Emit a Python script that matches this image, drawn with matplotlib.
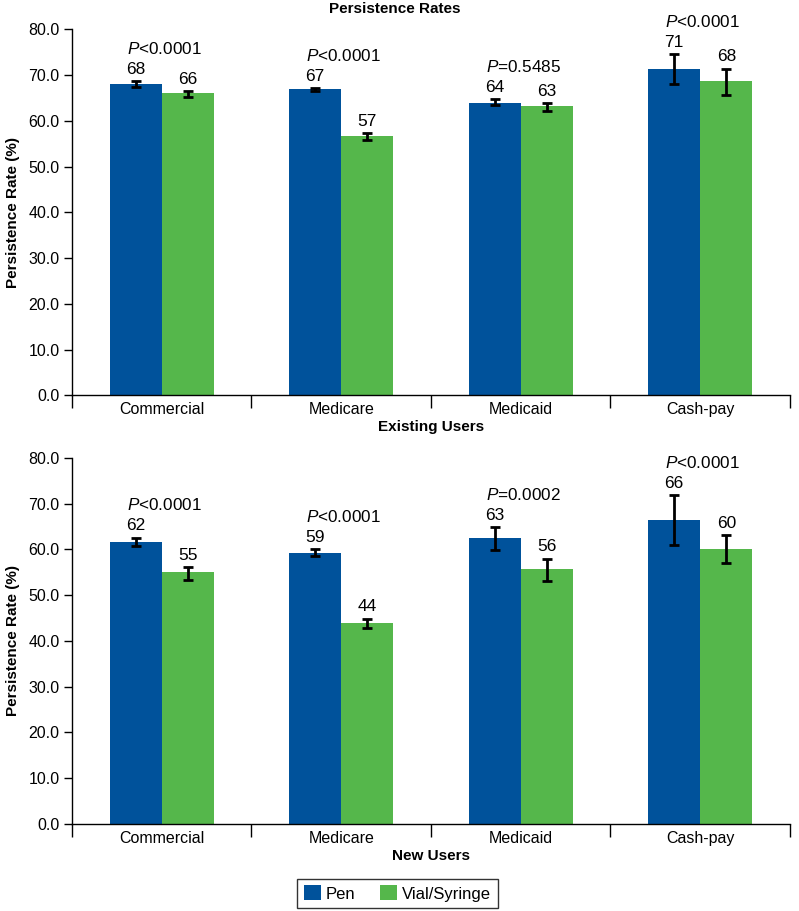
import numpy as np
import matplotlib
matplotlib.use("Agg")
import matplotlib.pyplot as plt

plt.rcParams['font.family'] = ['Liberation Sans', 'DejaVu Sans']
plt.rcParams['mathtext.fontset'] = 'custom'
plt.rcParams['mathtext.rm'] = 'Liberation Sans'
plt.rcParams['mathtext.it'] = 'Liberation Sans:italic'

categories = ["Commercial", "Medicare", "Medicaid", "Cash-pay"]
series = ["Pen", "Vial/Syringe"]
colors = ["#00529b", "#55b74b"]

# existing users
ex_pen = [68.0, 67.0, 63.9, 71.4]
ex_pen_lo = [67.3, 66.5, 63.4, 68.0]
ex_pen_hi = [68.6, 67.1, 64.7, 74.6]
ex_vial = [66.0, 56.7, 63.2, 68.7]
ex_vial_lo = [65.2, 55.9, 62.1, 65.7]
ex_vial_hi = [66.5, 57.3, 63.9, 71.4]
ex_pen_lbl = ["68", "67", "64", "71"]
ex_vial_lbl = ["66", "57", "63", "68"]
ex_p = ["<0.0001", "<0.0001", "=0.5485", "<0.0001"]

# new users
nw_pen = [61.7, 59.2, 62.5, 66.4]
nw_pen_lo = [60.8, 58.5, 59.9, 61.0]
nw_pen_hi = [62.6, 60.0, 64.8, 71.8]
nw_vial = [55.1, 44.0, 55.8, 60.1]
nw_vial_lo = [53.3, 42.8, 53.1, 57.0]
nw_vial_hi = [56.1, 44.9, 58.0, 63.2]
nw_pen_lbl = ["62", "59", "63", "66"]
nw_vial_lbl = ["55", "44", "56", "60"]
nw_p = ["<0.0001", "<0.0001", "=0.0002", "<0.0001"]

fig = plt.figure(figsize=(7.99, 9.11), dpi=100)
ax1 = fig.add_axes([0.0901, 0.5660, 0.8986, 0.4019])
ax2 = fig.add_axes([0.0901, 0.0955, 0.8986, 0.4019])

x = np.arange(len(categories))
w = 0.29


def draw(ax, pen, pen_lo, pen_hi, vial, vial_lo, vial_hi, pen_lbl, vial_lbl, pvals, xlabel):
    pen = np.array(pen); vial = np.array(vial)
    pe = [pen - np.array(pen_lo), np.array(pen_hi) - pen]
    ve = [vial - np.array(vial_lo), np.array(vial_hi) - vial]
    b1 = ax.bar(x - w / 2, pen, w, color=colors[0], label=series[0])
    b2 = ax.bar(x + w / 2, vial, w, color=colors[1], label=series[1])
    ax.errorbar(x - w / 2, pen, yerr=pe, fmt='none', ecolor='black', elinewidth=2, capsize=3.8, capthick=2)
    ax.errorbar(x + w / 2, vial, yerr=ve, fmt='none', ecolor='black', elinewidth=2, capsize=3.8, capthick=2)
    for i in range(len(categories)):
        ax.annotate(pen_lbl[i], (x[i] - w / 2, pen_hi[i]), xytext=(0, 3), textcoords='offset points',
                    ha='center', va='bottom', fontsize=12.5)
        ax.annotate(vial_lbl[i], (x[i] + w / 2, vial_hi[i]), xytext=(0, 3), textcoords='offset points',
                    ha='center', va='bottom', fontsize=12.5)
        ax.annotate(r"$\mathit{P}$" + pvals[i], (x[i] - w + 0.095, pen_hi[i]), xytext=(0, 17.5),
                    textcoords='offset points', ha='left', va='bottom', fontsize=12.3)
    ax.set_xlim(-0.5, 3.5)
    ax.set_ylim(0, 80)
    ax.set_yticks(np.arange(0, 81, 10))
    ax.set_yticklabels(["%.1f" % v for v in np.arange(0, 81, 10)], fontsize=11.5)
    ax.set_xticks(x)
    ax.set_xticklabels(categories, fontsize=11.5)
    ax.tick_params(axis='x', which='major', length=0, pad=5)
    ax.set_xticks(np.arange(-0.5, 4, 1), minor=True)
    ax.tick_params(axis='x', which='minor', length=9, width=1, direction='out')
    ax.tick_params(axis='y', length=6, width=1, direction='out', pad=3)
    for s in ['top', 'right']:
        ax.spines[s].set_visible(False)
    ax.spines['left'].set_linewidth(1)
    ax.spines['bottom'].set_linewidth(1)
    ax.set_ylabel("Persistence Rate (%)", fontsize=11, fontweight='bold', labelpad=6)
    ax.set_xlabel(xlabel, fontsize=11, fontweight='bold', labelpad=2)
    return b1, b2


draw(ax1, ex_pen, ex_pen_lo, ex_pen_hi, ex_vial, ex_vial_lo, ex_vial_hi, ex_pen_lbl, ex_vial_lbl, ex_p, "Existing Users")
b1, b2 = draw(ax2, nw_pen, nw_pen_lo, nw_pen_hi, nw_vial, nw_vial_lo, nw_vial_hi, nw_pen_lbl, nw_vial_lbl, nw_p, "New Users")

fig.text(0.494, 0.9905, "Persistence Rates", fontsize=11, fontweight='bold', ha='center', va='center')

fig.legend([b1, b2], series, loc='center', bbox_to_anchor=(0.4975, 0.0192), ncol=2,
           frameon=True, fancybox=False, edgecolor='black',
           handlelength=1.0, handleheight=1.0, handletextpad=0.3, columnspacing=1.5,
           borderpad=0.4, prop={'size': 12})
fig.legends[0].get_frame().set_linewidth(1)

fig.savefig("out.png", dpi=100)
